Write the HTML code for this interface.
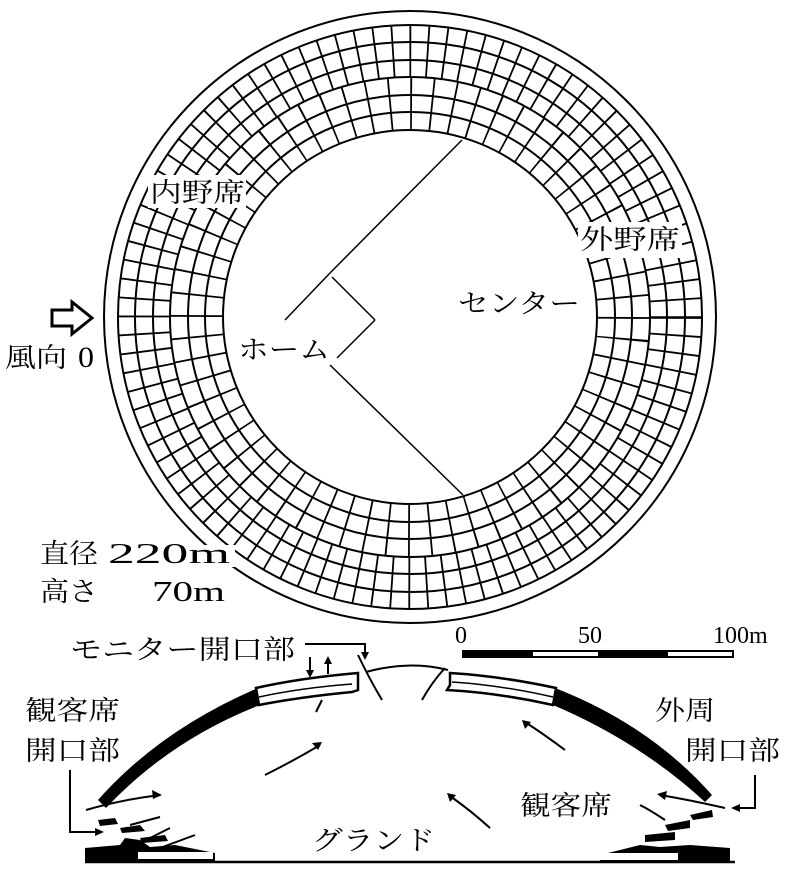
<!DOCTYPE html>
<html><head><meta charset="utf-8"><style>
html,body{margin:0;padding:0;background:#fff;overflow:hidden;}
svg{display:block;}
text{font-family:"Liberation Serif","Noto Serif CJK SC","Noto Sans CJK JP",serif;fill:#000;}
</style></head><body>
<svg width="800" height="882" viewBox="0 0 800 882" xmlns="http://www.w3.org/2000/svg">
<g fill="none" stroke="#000">
  <circle cx="410" cy="317" r="306" stroke-width="2"/>
  <circle cx="410" cy="317" r="213.5" stroke-width="53" stroke-dasharray="1.8 19.16"/>
  <circle cx="410" cy="317" r="266" stroke-width="52" stroke-dasharray="1.8 15.6"/>
  <g stroke-width="2">
    <circle cx="410" cy="317" r="187"/>
    <circle cx="410" cy="317" r="205"/>
    <circle cx="410" cy="317" r="222"/>
    <circle cx="410" cy="317" r="240"/>
    <circle cx="410" cy="317" r="257"/>
    <circle cx="410" cy="317" r="275"/>
    <circle cx="410" cy="317" r="292"/>
  </g>
</g>
<rect x="148" y="175" width="98" height="33" fill="#fff"/>
<rect x="578" y="222" width="104" height="36" fill="#fff"/>
<rect x="205" y="545" width="30" height="22" fill="#fff"/>
<g stroke="#000" stroke-width="1.5" fill="none">
  <line x1="462" y1="140" x2="330" y2="273"/>
  <line x1="330" y1="273" x2="285" y2="320"/>
  <line x1="332" y1="277" x2="375" y2="320"/>
  <line x1="375" y1="320" x2="337" y2="358"/>
  <line x1="330" y1="365" x2="463" y2="495"/>
</g>
<path d="M52,310 L72,310 L72,302 L92,318 L72,334 L72,326 L52,326 Z" fill="#fff" stroke="#000" stroke-width="3"/>
<g font-size="27">
<text x="150" y="202" textLength="95" lengthAdjust="spacingAndGlyphs">内野席</text>
<text x="580" y="249" textLength="100" lengthAdjust="spacingAndGlyphs">外野席</text>
<text x="458" y="313" textLength="122" lengthAdjust="spacingAndGlyphs">センター</text>
<text x="238" y="359" textLength="92" lengthAdjust="spacingAndGlyphs">ホーム</text>
<text x="5" y="367" textLength="62" lengthAdjust="spacingAndGlyphs">風向</text>
<text x="78" y="367" font-size="30" textLength="16" lengthAdjust="spacingAndGlyphs">0</text>
<text x="40" y="563" textLength="58" lengthAdjust="spacingAndGlyphs">直径</text>
<text x="108" y="563" font-size="29" textLength="122" lengthAdjust="spacingAndGlyphs">220m</text>
<text x="40" y="601" textLength="58" lengthAdjust="spacingAndGlyphs">高さ</text>
<text x="152" y="601" font-size="29" textLength="73" lengthAdjust="spacingAndGlyphs">70m</text>
<text x="70" y="659" textLength="225" lengthAdjust="spacingAndGlyphs">モニター開口部</text>
<text x="25" y="720" textLength="95" lengthAdjust="spacingAndGlyphs">観客席</text>
<text x="25" y="760" textLength="95" lengthAdjust="spacingAndGlyphs">開口部</text>
<text x="655" y="720" textLength="60" lengthAdjust="spacingAndGlyphs">外周</text>
<text x="685" y="760" textLength="95" lengthAdjust="spacingAndGlyphs">開口部</text>
<text x="520" y="815" textLength="92" lengthAdjust="spacingAndGlyphs">観客席</text>
<text x="312" y="850" textLength="123" lengthAdjust="spacingAndGlyphs">グランド</text>
</g>
<g font-size="24">
<text x="455" y="643">0</text>
<text x="578" y="643">50</text>
<text x="713" y="643">100m</text>
</g>
<rect x="463" y="651" width="270" height="6" fill="#fff" stroke="#000" stroke-width="2"/>
<rect x="463" y="651" width="70" height="6" fill="#000"/>
<rect x="598" y="651" width="70" height="6" fill="#000"/>
<path d="M366,672 Q410,660 448,670" fill="none" stroke="#000" stroke-width="2"/>
<path d="M98,800 Q160,730 258,688 L260,705 Q170,740 106,808 Z" fill="#000"/>
<path d="M256,688 Q300,678 358,673 L358,690 L352,692 Q300,697 259,705 Z" fill="#fff" stroke="#000" stroke-width="2.5"/>
<path d="M259,697 Q300,688 352,684" fill="none" stroke="#000" stroke-width="1.5"/>
<path d="M555,688 Q650,725 712,795 L705,802 Q640,742 553,705 Z" fill="#000"/>
<path d="M450,673 Q500,676 556,688 L553,705 Q500,693 447,690 L450,685 Z" fill="#fff" stroke="#000" stroke-width="2.5"/>
<path d="M452,682 Q500,685 553,697" fill="none" stroke="#000" stroke-width="1.5"/>
<g stroke="#000" stroke-width="2" fill="none">
  <path d="M305,644 L365,644 L365,656"/>
  <line x1="310" y1="657" x2="310" y2="674"/>
  <line x1="328" y1="674" x2="328" y2="660"/>
  <path d="M358,655 Q370,680 382,700"/>
  <path d="M422,700 Q432,682 445,668"/>
  <path d="M316,712 L322,700"/>
  <path d="M265,775 Q295,760 320,745"/>
  <path d="M86,810 Q120,800 160,795"/>
  <path d="M70,770 L70,832 L100,832"/>
  <path d="M755,775 L755,808 L735,808"/>
  <path d="M725,808 Q690,800 660,795"/>
  <path d="M565,750 Q545,735 525,722"/>
  <path d="M490,828 Q470,810 450,796"/>
  <path d="M665,820 Q650,810 640,805"/>
  <path d="M130,825 L160,817"/><path d="M150,838 L170,828"/><path d="M160,848 L195,835"/>
</g>
<g fill="#000">
  <path d="M365,660 L361,652 L369,652 Z"/>
  <path d="M310,678 L306,670 L314,670 Z"/>
  <path d="M328,656 L324,664 L332,664 Z"/>
  <path d="M322,742 L312,743 L318,750 Z"/>
  <path d="M162,795 L152,790 L153,799 Z"/>
  <path d="M104,832 L95,828 L95,836 Z"/>
  <path d="M731,808 L740,804 L740,812 Z"/>
  <path d="M657,794 L667,791 L665,800 Z"/>
  <path d="M522,720 L531,722 L525,729 Z"/>
  <path d="M447,793 L456,795 L450,802 Z"/>
  <path d="M85,848 L120,845 L125,838 L140,840 L150,847 L175,845 L215,853 L215,862 L85,862 Z"/>
  <path d="M98,820 L115,818 L118,824 L100,826 Z"/>
  <path d="M120,828 L140,825 L145,831 L122,833 Z"/>
  <path d="M140,838 L165,835 L168,841 L142,843 Z"/>
  <path d="M600,855 L640,845 L660,847 L690,845 L730,848 L730,862 L600,862 Z"/>
  <path d="M690,815 L712,810 L713,817 L693,820 Z"/>
  <path d="M665,825 L690,820 L690,828 L668,831 Z"/>
  <path d="M645,835 L675,832 L675,840 L645,842 Z"/>
</g>
<rect x="138" y="852" width="75" height="7" fill="#fff"/>
<rect x="598" y="853" width="80" height="7" fill="#fff"/>
<line x1="85" y1="862" x2="735" y2="862" stroke="#000" stroke-width="2.5"/>
</svg>
</body></html>
